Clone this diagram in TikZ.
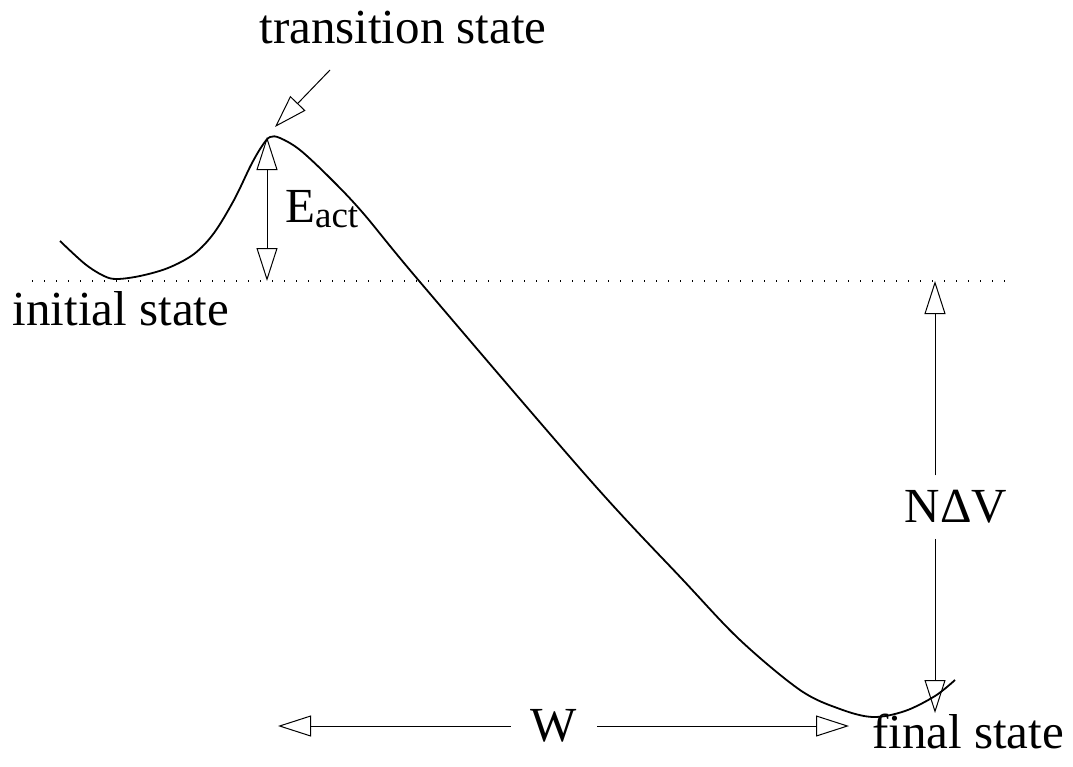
\documentclass[tikz,border=0pt]{standalone}
\usepackage{fontspec}
\setmainfont{Liberation Serif}
\usepackage{tikz}
\usetikzlibrary{arrows.meta,calc}

\begin{document}
\begin{tikzpicture}[
  x=1pt, y=-1pt,
  font=\fontsize{49}{58}\selectfont,
  lab/.style={inner sep=0pt},
  curve/.style={line width=1.8pt, line join=round},
  arr/.style={-{Triangle[open, length=33pt, width=21pt]}, line width=1pt},
  dblarr/.style={{Triangle[open, length=33pt, width=21pt]}-{Triangle[open, length=33pt, width=21pt]}, line width=1pt},
  dots/.style={line width=1.1pt, dash pattern=on 1.1pt off 10.9pt},
]
\useasboundingbox (0,0) rectangle (1073,766);
% energy levels
\coordinate (dotl) at (32,281);
\coordinate (dotr) at (1010,281);
\draw[dots] (dotl) -- (dotr);
% energy profile
\draw[curve] plot[smooth, tension=0.55] coordinates {
  (60,241) (85,264) (104,276) (117,279) (140,276) (168,268) (194,254)
  (214,233) (234,200) (251,165) (262,146) (270,137) (280,138) (300,150)
  (330,178) (363,213) (420,282) (590,480) (683,580) (740,640) (800,690)
  (840,709) (873,717) (905,711) (935,696) (955,680)};
% labels
\node[lab, anchor=base] (ts)  at (403,43)  {transition state};
\node[lab, anchor=base] (ini) at (121,325) {initial state};
\node[lab, anchor=base] (fin) at (968,748) {final state};
\node[lab, anchor=base west] (eact) at (285,222)
  {E\raisebox{-5pt}{\fontsize{37}{40}\selectfont act}};
\node[lab, inner ysep=15pt] (ndv) at (956,507) {NΔV};
\node[lab, inner xsep=20pt] (w) at (554,726) {W};
% arrows
\coordinate (tsfrom) at (330,70);
\coordinate (tstip)  at (275,127);
\draw[arr] (tsfrom) -- (tstip);
\coordinate (peak)  at (267,137);
\coordinate (ebase) at (267,281);
\draw[dblarr] (ebase) -- (peak);
\coordinate (ndvtop) at (935,281);
\coordinate (ndvbot) at (935,713);
\draw[arr] (ndvtop |- ndv.north) -- (ndvtop);
\draw[arr] (ndvbot |- ndv.south) -- (ndvbot);
\coordinate (wl) at (278,726);
\coordinate (wr) at (849,726);
\draw[arr] (w.west) -- (wl);
\draw[arr] (w.east) -- (wr);
\end{tikzpicture}
\end{document}
